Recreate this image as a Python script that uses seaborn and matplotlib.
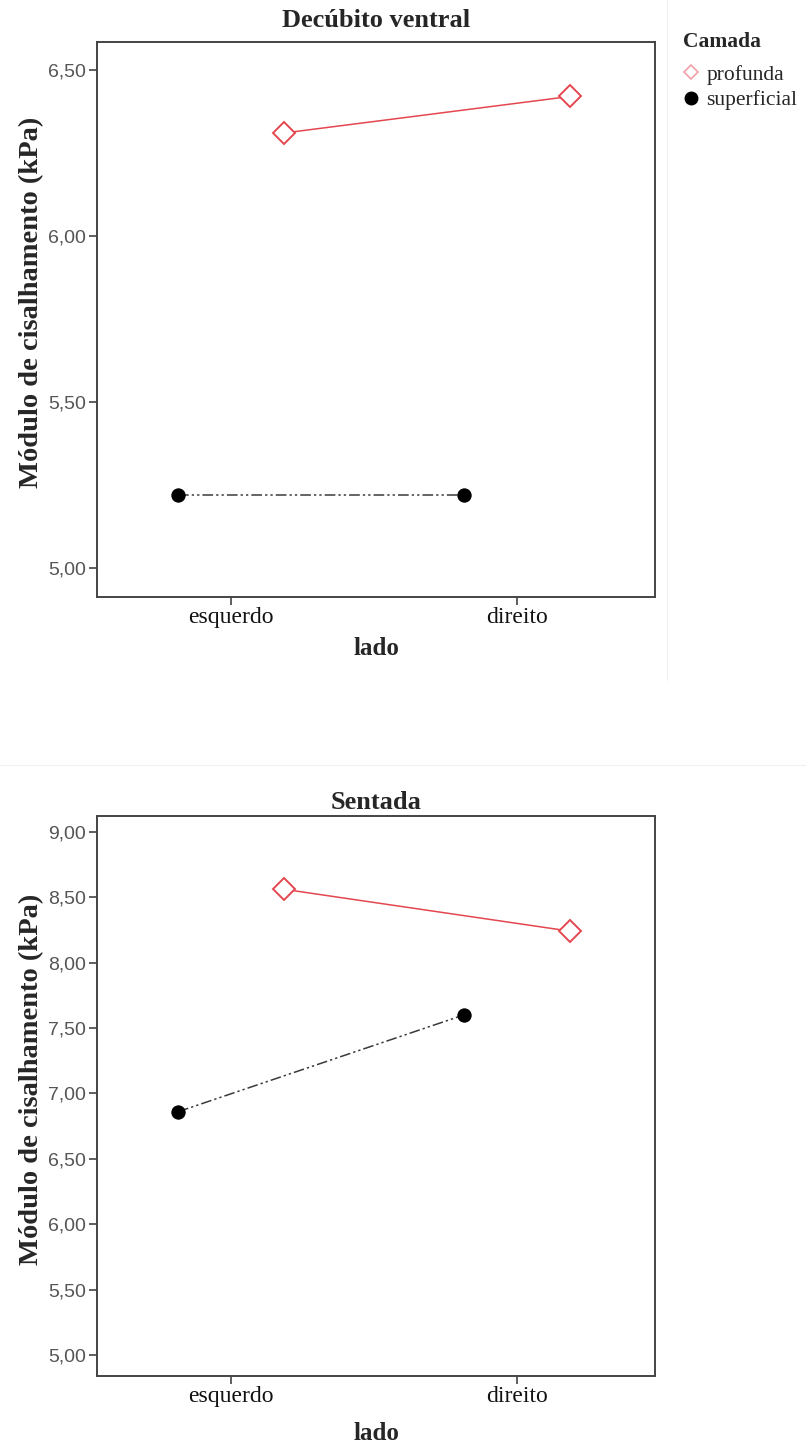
import numpy as np
import pandas as pd
import seaborn as sns
import matplotlib.pyplot as plt
from matplotlib.lines import Line2D
from matplotlib.colors import to_rgba
from matplotlib.ticker import FuncFormatter, FixedLocator

lados = ["esquerdo", "direito"]
camadas = ["superficial", "profunda"]

# Decúbito ventral
ventral_profunda = [6.31, 6.42]
ventral_superficial = [5.22, 5.22]
ventral_yticks = [5.0, 5.5, 6.0, 6.5]

# Sentada
sentada_profunda = [8.56, 8.24]
sentada_superficial = [6.86, 7.60]
sentada_yticks = [5.0, 5.5, 6.0, 6.5, 7.0, 7.5, 8.0, 8.5, 9.0]

VERMELHO = "#E4474F"
CINZA = "#444444"


def monta(profunda, superficial):
    return pd.DataFrame({
        "lado": lados * 2,
        "Camada": ["profunda"] * 2 + ["superficial"] * 2,
        "valor": profunda + superficial,
    })


sns.set_style("ticks")
plt.rcParams["font.family"] = ["Liberation Serif", "DejaVu Serif"]

fig = plt.figure(figsize=(8.06, 14.48), dpi=100)
W, H = 806, 1448
ax1 = fig.add_axes([97 / W, 1 - 597 / H, 558 / W, 555 / H])
ax2 = fig.add_axes([97 / W, 1 - 1376 / H, 558 / W, 560 / H])


def desenha(ax, df, yticks, ylim, titulo, tpad, xpad):
    sns.pointplot(data=df, x="lado", y="valor", hue="Camada", order=lados,
                  hue_order=camadas, dodge=0.37, errorbar=None,
                  palette={"superficial": "black", "profunda": VERMELHO},
                  markers=["o", "D"], linestyles=["-", "-"],
                  markersize=9, linewidth=1.1, legend=False, ax=ax)
    for line in ax.lines:
        if np.allclose(to_rgba(line.get_color()), (0, 0, 0, 1)):
            line.set_color("#3a3a3a")
            line.set_markerfacecolor("black")
            line.set_markeredgecolor("black")
            line.set_markersize(9.5)
            line.set_dashes([7, 2, 1.5, 2, 1.5, 2])
        else:
            line.set_markerfacecolor("white")
            line.set_markeredgecolor(VERMELHO)
            line.set_markeredgewidth(1.4)
            line.set_markersize(11)
            line.set_zorder(5)
    ax.set_xlim(-0.4685, 1.4825)
    ax.set_ylim(*ylim)
    ax.yaxis.set_major_locator(FixedLocator(yticks))
    ax.yaxis.set_major_formatter(FuncFormatter(lambda v, p: f"{v:.2f}".replace(".", ",")))
    for s in ax.spines.values():
        s.set_visible(True)
        s.set_color(CINZA)
        s.set_linewidth(1.4)
    ax.tick_params(axis="both", direction="out", length=6, width=1.2, color=CINZA)
    ax.tick_params(axis="x", labelsize=17, pad=1, labelcolor="#111111")
    ax.tick_params(axis="y", labelsize=14, pad=2, labelcolor="#555555")
    for t in ax.get_yticklabels():
        t.set_fontfamily("Liberation Sans")
    ax.set_xlabel("lado", fontsize=18, fontweight="bold", labelpad=xpad)
    ax.set_ylabel("Módulo de cisalhamento (kPa)", fontsize=20.5, fontweight="bold")
    ax.yaxis.set_label_coords(-0.095, 0.53)
    ax.set_title(titulo, fontsize=19, fontweight="bold", pad=tpad)


desenha(ax1, monta(ventral_profunda, ventral_superficial), ventral_yticks,
        (4.913, 6.584), "Decúbito ventral", 11, 7)
desenha(ax2, monta(sentada_profunda, sentada_superficial), sentada_yticks,
        (4.84, 9.12), "Sentada", 5, 11)

# legenda
fig.text(683 / W, 1 - 42 / H, "Camada", fontsize=15.5, fontweight="bold",
         va="center", ha="left")
handles = [
    Line2D([], [], ls="none", marker="D", markersize=7, markerfacecolor="white",
           markeredgecolor="#F0A0A8", markeredgewidth=1.2),
    Line2D([], [], ls="none", marker="o", markersize=9, color="black"),
]
fig.legend(handles, ["profunda", "superficial"], loc="upper left",
           bbox_to_anchor=(672 / W, 1 - 54 / H), frameon=False,
           handlelength=0.8, handletextpad=0.3, labelspacing=0.25, borderpad=0,
           fontsize=15.5)

# faint separators of the original export
for xs, ys in [([667 / W, 667 / W], [1, 1 - 680 / H]),
               ([0, 1], [1 - 765 / H, 1 - 765 / H])]:
    fig.add_artist(Line2D(xs, ys, color="#f0f0f0", lw=0.8, transform=fig.transFigure))

fig.savefig("out.png", dpi=100)
